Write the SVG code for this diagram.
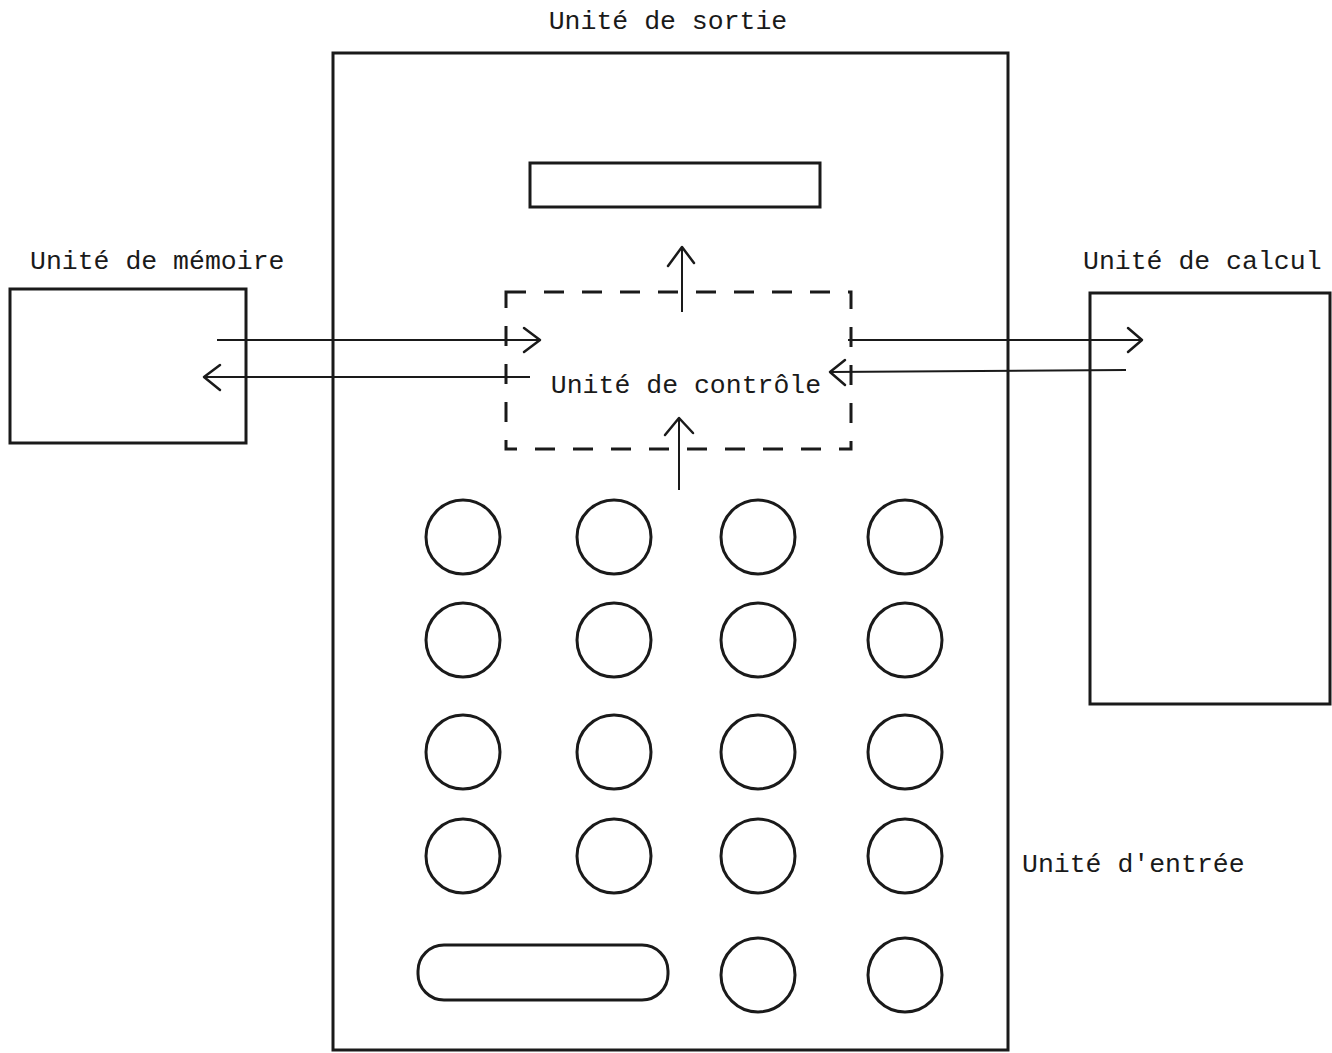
<svg xmlns="http://www.w3.org/2000/svg" width="1332" height="1053" viewBox="0 0 1332 1053">
<style>
.box{fill:none;stroke:#1a1a1a;stroke-width:3}
.key{fill:none;stroke:#1a1a1a;stroke-width:3}
.dash{fill:none;stroke:#1a1a1a;stroke-width:3;stroke-dasharray:20 18}
.ln{fill:none;stroke:#1a1a1a;stroke-width:2}
.hd{fill:none;stroke:#1a1a1a;stroke-width:2.5;stroke-linecap:round;stroke-linejoin:round}
text{font-family:"Liberation Mono","DejaVu Sans Mono",monospace;font-size:26.5px;fill:#1a1a1a}
</style>
<rect width="1332" height="1053" fill="#ffffff"/>
<g id="sortie-label"><text x="668" y="29" text-anchor="middle">Unité de sortie</text></g>
<g id="calculatrice"><rect class="box" x="333" y="53" width="675" height="997"/></g>
<g id="affichage"><rect class="box" x="530" y="163" width="290" height="44"/></g>
<g id="controle">
<rect class="dash" x="506" y="292" width="345" height="157"/>
<text x="686" y="393" text-anchor="middle">Unité de contrôle</text>
</g>
<g id="memoire">
<rect class="box" x="10" y="289" width="236" height="154"/>
<text x="30" y="269">Unité de mémoire</text>
</g>
<g id="calcul">
<rect class="box" x="1090" y="293" width="240" height="411"/>
<text x="1083" y="269">Unité de calcul</text>
</g>
<g id="entree-label"><text x="1022" y="872">Unité d'entrée</text></g>
<g id="clavier">
<circle class="key" cx="463" cy="537" r="37"/><circle class="key" cx="614" cy="537" r="37"/><circle class="key" cx="758" cy="537" r="37"/><circle class="key" cx="905" cy="537" r="37"/>
<circle class="key" cx="463" cy="640" r="37"/><circle class="key" cx="614" cy="640" r="37"/><circle class="key" cx="758" cy="640" r="37"/><circle class="key" cx="905" cy="640" r="37"/>
<circle class="key" cx="463" cy="752" r="37"/><circle class="key" cx="614" cy="752" r="37"/><circle class="key" cx="758" cy="752" r="37"/><circle class="key" cx="905" cy="752" r="37"/>
<circle class="key" cx="463" cy="856" r="37"/><circle class="key" cx="614" cy="856" r="37"/><circle class="key" cx="758" cy="856" r="37"/><circle class="key" cx="905" cy="856" r="37"/>
<rect class="key" x="418" y="945" width="250" height="55" rx="26"/>
<circle class="key" cx="758" cy="975" r="37"/><circle class="key" cx="905" cy="975" r="37"/>
</g>
<g id="connecteurs">
<line class="ln" x1="217" y1="340" x2="540" y2="340"/><polyline class="hd" points="524,328 540,340 524,352"/>
<line class="ln" x1="530" y1="377" x2="204" y2="377"/><polyline class="hd" points="220,365 204,377 220,390"/>
<line class="ln" x1="848" y1="340" x2="1142" y2="340"/><polyline class="hd" points="1128,328 1142,340 1128,352"/>
<line class="ln" x1="1126" y1="370" x2="830" y2="372"/><polyline class="hd" points="845,360 830,372 845,385"/>
<line class="ln" x1="682" y1="312" x2="682" y2="247"/><polyline class="hd" points="668,266 682,247 694,263"/>
<line class="ln" x1="679" y1="490" x2="679" y2="418"/><polyline class="hd" points="665,435 679,418 693,433"/>
</g>
</svg>
